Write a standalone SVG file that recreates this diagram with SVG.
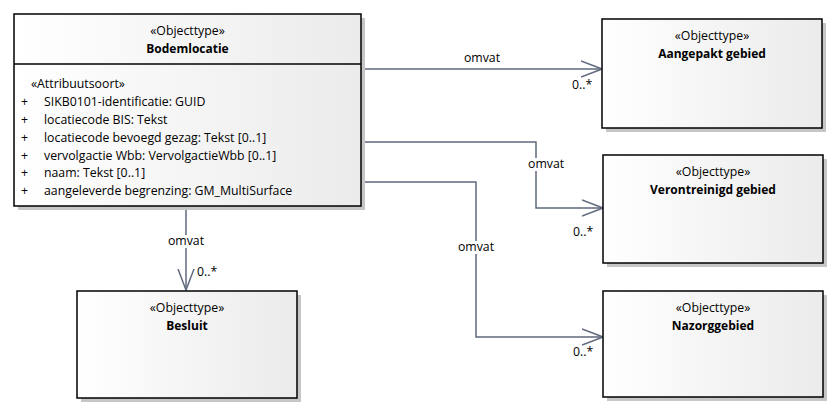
<svg xmlns="http://www.w3.org/2000/svg" width="838" height="413" viewBox="0 0 838 413">
<defs>
<linearGradient id="fill" x1="0" y1="0" x2="1" y2="0">
<stop offset="0" stop-color="#ffffff"/>
<stop offset="1" stop-color="#ebebeb"/>
</linearGradient>
<marker id="arrow" markerUnits="userSpaceOnUse" viewBox="0 0 22 18" refX="21" refY="9" markerWidth="22" markerHeight="18" orient="auto">
<path d="M0,1 L21,9 L0,17" fill="none" stroke="#5f6a7e" stroke-width="1.5"/>
</marker>
</defs>
<style>
text{font-family:"Open Sans","Liberation Sans",Arial,sans-serif;font-size:12.3px;fill:#000}
.b{font-weight:bold;font-size:12px}
.m{text-anchor:middle}
.shadow{fill:#c6c6c6}
.box{fill:url(#fill);stroke:#000;stroke-width:1.5}
.conn{fill:none;stroke:#5f6a7e;stroke-width:1.5}
.bg{fill:#fff}
</style>

<g id="connectors">
<path class="conn" d="M361,69 H602" marker-end="url(#arrow)"/>
<text class="m" x="482" y="62">omvat</text>
<text x="572" y="89">0..*</text>

<path class="conn" d="M361,142 H536 V208 H603" marker-end="url(#arrow)"/>
<rect class="bg" x="527" y="158" width="37" height="13"/>
<text x="528" y="168">omvat</text>
<text x="573" y="236">0..*</text>

<path class="conn" d="M361,182 H476 V337 H603" marker-end="url(#arrow)"/>
<rect class="bg" x="457" y="241" width="38" height="13"/>
<text class="m" x="476" y="251">omvat</text>
<text x="573" y="356">0..*</text>

<path class="conn" d="M186,206 V290" marker-end="url(#arrow)"/>
<rect class="bg" x="167" y="235" width="38" height="13"/>
<text class="m" x="186" y="245">omvat</text>
<text x="197" y="276">0..*</text>
</g>

<g id="bodemlocatie">
<rect class="shadow" x="18" y="18" width="347" height="192"/>
<rect class="box" x="14" y="14" width="347" height="192"/>
<line x1="14" y1="64" x2="361" y2="64" stroke="#000" stroke-width="1.5"/>
<text class="m" x="187.5" y="35">«Objecttype»</text>
<text class="m b" x="187.5" y="53">Bodemlocatie</text>
<text x="31" y="88">«Attribuutsoort»</text>
<text x="21" y="106">+</text><text x="44" y="106">SIKB0101-identificatie: GUID</text>
<text x="21" y="124">+</text><text x="44" y="124">locatiecode BIS: Tekst</text>
<text x="21" y="141.5">+</text><text x="44" y="141.5">locatiecode bevoegd gezag: Tekst [0..1]</text>
<text x="21" y="159.5">+</text><text x="44" y="159.5">vervolgactie Wbb: VervolgactieWbb [0..1]</text>
<text x="21" y="177">+</text><text x="44" y="177">naam: Tekst [0..1]</text>
<text x="21" y="195">+</text><text x="44" y="195">aangeleverde begrenzing: GM_MultiSurface</text>
</g>

<g id="aangepakt-gebied">
<rect class="shadow" x="606" y="23" width="220" height="109"/>
<rect class="box" x="602" y="19" width="220" height="109"/>
<text class="m" x="712" y="40">«Objecttype»</text>
<text class="m b" x="712" y="58">Aangepakt gebied</text>
</g>

<g id="verontreinigd-gebied">
<rect class="shadow" x="607" y="159" width="220" height="108"/>
<rect class="box" x="603" y="155" width="220" height="108"/>
<text class="m" x="713" y="176">«Objecttype»</text>
<text class="m b" x="713" y="194">Verontreinigd gebied</text>
</g>

<g id="nazorggebied">
<rect class="shadow" x="607" y="295" width="220" height="106"/>
<rect class="box" x="603" y="291" width="220" height="106"/>
<text class="m" x="713" y="312">«Objecttype»</text>
<text class="m b" x="713" y="330">Nazorggebied</text>
</g>

<g id="besluit">
<rect class="shadow" x="81" y="295" width="220" height="107"/>
<rect class="box" x="77" y="291" width="220" height="107"/>
<text class="m" x="187" y="312">«Objecttype»</text>
<text class="m b" x="187" y="330">Besluit</text>
</g>
</svg>
